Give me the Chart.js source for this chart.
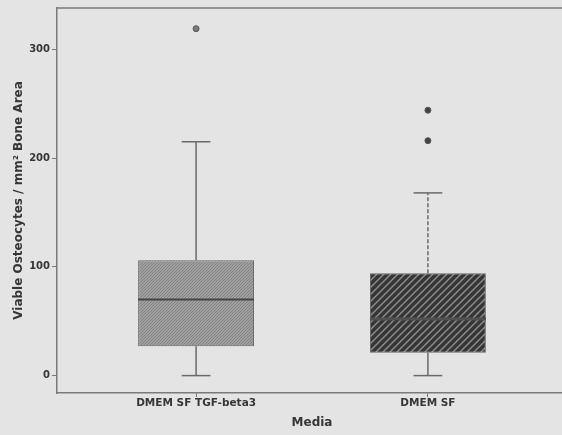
<!DOCTYPE html>
<html>
<head>
<meta charset="utf-8">
<script src="https://cdn.jsdelivr.net/npm/chart.js@4.4.1/dist/chart.umd.min.js"></script>
<style>
    html, body { margin: 0; padding: 0; background: #e4e4e4; overflow: hidden; }
    #wrap { width: 580px; height: 435px; }
</style>
</head>
<body>
<div id="wrap"><canvas id="boxChart"></canvas></div>
<script>
// ── DATA ──────────────────────────────────────────────────────
const groups = ['DMEM SF TGF-beta3', 'DMEM SF'];
const positions = [1, 2];
const whiskerLow = [0, 0];
const q1 = [27, 21];
const medians = [70, 52];
const q3 = [106, 94];
const whiskerHigh = [215, 168];
const outliers = [[319], [244, 216]];
const yTicks = [0, 100, 200, 300];

// ── HATCH PATTERNS ────────────────────────────────────────────
function makeHatch(size, base, stroke, width) {
    const c = document.createElement('canvas');
    c.width = size; c.height = size;
    const ctx = c.getContext('2d');
    ctx.fillStyle = base;
    ctx.fillRect(0, 0, size, size);
    ctx.strokeStyle = stroke;
    ctx.lineWidth = width;
    ctx.beginPath();
    ctx.moveTo(0, size); ctx.lineTo(size, 0);
    ctx.moveTo(-1, 1); ctx.lineTo(1, -1);
    ctx.moveTo(size - 1, size + 1); ctx.lineTo(size + 1, size - 1);
    ctx.stroke();
    return c.getContext('2d').createPattern(c, 'repeat');
}

const hatchFine = makeHatch(3, '#a0a0a0', '#828282', 1);
const hatchBold = makeHatch(7, '#363636', '#909090', 1.4);

// ── WHISKERS / MEDIANS / FRAME ────────────────────────────────
const boxExtras = {
    id: 'boxExtras',
    afterDatasetsDraw(chart) {
        const { ctx, scales: { x, y }, chartArea } = chart;
        ctx.save();
        positions.forEach((p, i) => {
            const cx = x.getPixelForValue(p);
            const capL = x.getPixelForValue(p - 0.062);
            const capR = x.getPixelForValue(p + 0.062);
            const boxL = x.getPixelForValue(p - 0.25);
            const boxR = x.getPixelForValue(p + 0.25);

            ctx.strokeStyle = '#6a6a6a';
            ctx.lineWidth = 1.5;

            // upper whisker
            ctx.setLineDash(i === 1 ? [4, 2] : []);
            ctx.beginPath();
            ctx.moveTo(cx, y.getPixelForValue(q3[i]));
            ctx.lineTo(cx, y.getPixelForValue(whiskerHigh[i]));
            ctx.stroke();
            ctx.setLineDash([]);

            // lower whisker
            ctx.beginPath();
            ctx.moveTo(cx, y.getPixelForValue(q1[i]));
            ctx.lineTo(cx, y.getPixelForValue(whiskerLow[i]));
            ctx.stroke();

            // caps
            [whiskerHigh[i], whiskerLow[i]].forEach(v => {
                ctx.beginPath();
                ctx.moveTo(capL, y.getPixelForValue(v));
                ctx.lineTo(capR, y.getPixelForValue(v));
                ctx.stroke();
            });

            // median
            ctx.strokeStyle = i === 0 ? '#444' : '#505050';
            ctx.lineWidth = i === 0 ? 2 : 3;
            ctx.beginPath();
            ctx.moveTo(boxL, y.getPixelForValue(medians[i]));
            ctx.lineTo(boxR, y.getPixelForValue(medians[i]));
            ctx.stroke();
        });

        // top frame line
        ctx.strokeStyle = '#7a7a7a';
        ctx.lineWidth = 1.5;
        ctx.beginPath();
        ctx.moveTo(chartArea.left, chartArea.top);
        ctx.lineTo(chartArea.right, chartArea.top);
        ctx.stroke();
        ctx.restore();
    }
};

// ── CHART ─────────────────────────────────────────────────────
const outlierPoints = [];
positions.forEach((p, i) => outliers[i].forEach(v => outlierPoints.push({ x: p, y: v })));

new Chart(document.getElementById('boxChart'), {
    type: 'bar',
    data: {
        datasets: [{
            type: 'bar',
            data: positions.map((p, i) => ({ x: p, y: [q1[i], q3[i]] })),
            backgroundColor: [hatchFine, hatchBold],
            borderColor: '#666',
            borderWidth: 1,
            borderSkipped: false,
            barPercentage: 0.5,
            categoryPercentage: 1
        }, {
            type: 'scatter',
            data: outlierPoints,
            pointRadius: 3,
            pointBackgroundColor: ['#7a7a7a', '#444', '#444'],
            pointBorderColor: '#555',
            pointBorderWidth: 1
        }]
    },
    options: {
        responsive: true,
        maintainAspectRatio: false,
        animation: false,
        layout: { padding: { top: 7, right: 13, left: 0, bottom: 0 } },
        plugins: { legend: { display: false }, tooltip: { enabled: false } },
        scales: {
            x: {
                type: 'linear',
                min: 0.4,
                max: 2.6,
                offset: false,
                afterBuildTicks: axis => { axis.ticks = positions.map(v => ({ value: v })); },
                afterFit: axis => { axis.height = 42; },
                ticks: {
                    callback: v => groups[positions.indexOf(v)],
                    color: '#363636',
                    font: { family: 'DejaVu Sans', size: 10.5, weight: 'bold' },
                    padding: 0,
                    maxRotation: 0
                },
                grid: { offset: false, drawOnChartArea: false, tickLength: 4, color: '#777', lineWidth: 1 },
                border: { color: '#7a7a7a', width: 1.5 },
                title: {
                    display: true,
                    text: 'Media',
                    color: '#363636',
                    font: { family: 'DejaVu Sans', size: 12, weight: 'bold' },
                    padding: { top: 0, bottom: 5 }
                }
            },
            y: {
                min: -16,
                max: 338,
                afterBuildTicks: axis => { axis.ticks = yTicks.map(v => ({ value: v })); },
                afterFit: axis => { axis.width = 57; },
                ticks: {
                    color: '#363636',
                    font: { family: 'DejaVu Sans', size: 10, weight: 'bold' },
                    padding: 2
                },
                grid: { drawOnChartArea: false, tickLength: 5, color: '#777', lineWidth: 1 },
                border: { color: '#7a7a7a', width: 1.5 },
                title: {
                    display: true,
                    text: 'Viable Osteocytes / mm² Bone Area',
                    color: '#363636',
                    font: { family: 'DejaVu Sans', size: 12, weight: 'bold' },
                    padding: { top: 12, bottom: 0 }
                }
            }
        }
    },
    plugins: [boxExtras]
});
</script>
</body>
</html>
